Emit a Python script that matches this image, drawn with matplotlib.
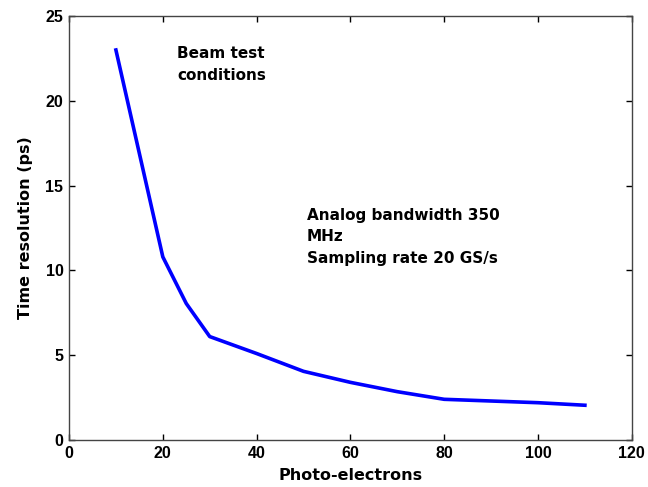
import matplotlib
matplotlib.use("Agg")
import matplotlib.pyplot as plt

# Time resolution vs. number of photo-electrons
photo_electrons = [10, 20, 25, 30, 40, 50, 60, 70, 80, 90, 100, 110]
time_resolution_ps = [23.0, 10.8, 8.05, 6.1, 5.1, 4.05, 3.4, 2.85, 2.4, 2.3, 2.2, 2.05]

x_ticks = [0, 20, 40, 60, 80, 100, 120]
y_ticks = [0, 5, 10, 15, 20, 25]

label_font = ["DejaVu Sans"]
tick_font = ["Liberation Sans", "DejaVu Sans"]

fig = plt.figure(figsize=(6.48, 4.87), dpi=100)
ax = fig.add_axes([0.1065, 0.0965, 0.8685, 0.8705])

ax.plot(photo_electrons, time_resolution_ps, color="#0000ff", linewidth=2.6)

ax.set_xlim(0, 120)
ax.set_ylim(0, 25)
ax.set_xticks(x_ticks)
ax.set_yticks(y_ticks)
ax.tick_params(direction="in", length=4, width=1, top=True, right=True,
               colors="black", pad=4)
for lbl in ax.get_xticklabels() + ax.get_yticklabels():
    lbl.set_fontweight("bold")
    lbl.set_family(tick_font)
    lbl.set_fontsize(11.5)
for s in ax.spines.values():
    s.set_color("#444444")
    s.set_linewidth(1.0)

ax.set_xlabel("Photo-electrons", fontsize=11.5, fontweight="bold",
              family=label_font, labelpad=5)
ax.set_ylabel("Time resolution (ps)", fontsize=11.5, fontweight="bold",
              family=label_font, labelpad=9)

ax.text(23.0, 23.25, "Beam test\nconditions", fontsize=11, fontweight="bold",
        family=label_font, va="top", ha="left", linespacing=1.6)
ax.text(50.7, 13.7, "Analog bandwidth 350\nMHz\nSampling rate 20 GS/s",
        fontsize=11, fontweight="bold", family=label_font,
        va="top", ha="left", linespacing=1.55)

fig.savefig("out.png", dpi=100)
